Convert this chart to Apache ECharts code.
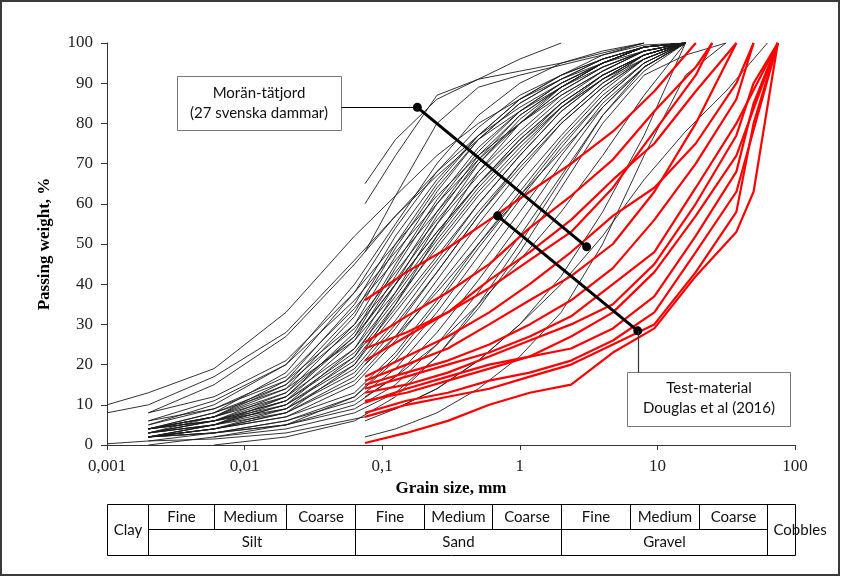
<!DOCTYPE html>
<html><head><meta charset="utf-8">
<script src="https://cdn.jsdelivr.net/npm/echarts@6/dist/echarts.min.js"></script>
<style>html,body{margin:0;padding:0;background:#fff}#c{width:841px;height:576px}</style>
</head><body><div id="c"></div>
<script>
const N = null;
// Grain sizes (mm) for the moraine (black) curves
const blackSieves = [0.001,0.002,0.006,0.02,0.063,0.075,0.125,0.25,0.5,1,2,4,8,16,31.5,63];
// Passing weight (%) per curve, aligned with blackSieves
const blackCurves = [
  [10,13,19,33,52,N,62,72,80,86,91,95,98,100,N,N],
  [8,10,17,28,46,N,57,67,76,83,89,94,98,100,N,N],
  [0.3,1,1.5,3,N,7,9,14,21,30,40,52,66,78,88,100],
  [N,8,15,27,45,N,57,68,77,84,90,95,99,100,N,N],
  [N,8,12,21,38,N,50,62,72,80,87,93,98,100,N,N],
  [N,6,11,20,36,N,48,60,71,80,88,94,98,100,N,N],
  [N,6,9,16,30,N,43,56,68,78,87,93,98,100,N,N],
  [N,5,9,17,34,N,46,58,70,80,88,94,98,100,N,N],
  [N,4,8,15,29,N,41,55,67,77,86,93,98,100,N,N],
  [N,4,7,13,27,N,40,53,65,76,85,92,97,100,N,N],
  [N,4,7,12,24,N,37,51,64,75,85,92,97,100,N,N],
  [N,4,6,11,23,N,36,49,62,73,84,92,97,100,N,N],
  [N,4,6,10,20,N,33,46,60,72,83,91,97,100,N,N],
  [N,4,6,9,18,N,30,43,57,70,81,90,97,100,N,N],
  [N,3,6,11,22,N,35,50,63,74,84,91,96,100,N,N],
  [N,3,5,9,19,N,31,45,58,70,81,90,96,100,N,N],
  [N,3,5,8,16,N,27,41,55,68,80,89,96,100,N,N],
  [N,2,5,10,21,N,34,47,60,72,83,91,97,100,N,N],
  [N,2,4,8,17,N,29,43,57,69,80,89,96,100,N,N],
  [N,2,4,7,15,N,26,39,52,65,77,88,96,100,N,N],
  [N,2,4,7,13,N,23,36,50,63,76,87,95,100,N,N],
  [N,2,3,6,12,N,21,33,47,61,74,86,95,100,N,N],
  [N,2,3,6,11,N,19,31,44,58,72,85,94,100,N,N],
  [N,2,3,5,10,N,17,28,41,55,70,84,94,100,N,N],
  [N,1,3,5,9,N,15,25,38,52,67,82,93,100,N,N],
  [N,0,2,4,8,N,13,22,34,48,64,80,92,97,100,N],
  [N,2,4,8,20,N,35,52,68,80,89,95,99,100,N,N],
  [N,4,7,14,32,N,49,64,76,85,91,96,99,100,N,N],
  [N,3,6,12,28,N,45,61,74,83,90,95,99,100,N,N],
  [N,2,5,11,26,N,42,58,72,82,89,95,99,100,N,N],
  [N,4,8,18,38,N,54,68,79,87,92,96,99,100,N,N],
  [N,5,10,20,40,N,55,70,82,90,95,98,100,N,N,N],
  [N,3,7,16,35,N,52,66,77,86,92,97,99.5,100,N,N],
  [N,3,6,13,30,N,47,63,76,85,91,96,99,100,N,N],
  [N,2,5,12,27,N,44,60,73,83,90,95,99,100,N,N],
  [N,4,7,15,33,N,50,65,77,86,92,96,99,100,N,N],
  [N,3,5,10,24,N,40,57,71,82,89,95,99,100,N,N],
  [N,2,4,9,22,N,38,55,70,81,89,95,99,100,N,N],
  [N,N,8,14,26,N,38,52,65,76,85,92,97,100,N,N],
  [N,N,0,2,6,N,12,22,35,50,66,82,94,100,N,N],
  [N,N,2,5,12,N,22,35,49,62,75,86,95,100,N,N],
  [N,N,N,N,N,65,76,86,91,96,100,N,N,N,N,N],
  [N,N,N,N,N,60,72,87,91,93,95,97.5,100,N,N,N],
  [N,N,N,N,N,48,62,80,89,92,94.5,97,100,N,N,N],
  [N,N,N,N,N,2,4,8,14,22,33,50,72,92,100,N],
  [N,N,N,N,N,6,9,14,21,30,42,58,77,100,N,N],
  [N,N,N,N,N,12,17,25,35,46,58,72,87,100,N,N],
  [N,N,N,N,N,20,27,38,50,62,73,84,94,100,N,N],
  [N,N,N,N,N,30,40,53,65,75,84,91,97,100,N,N]
];
// Grain sizes (mm) for the test material (red) curves
const redSieves = [0.075,0.15,0.3,0.6,1.18,2.36,4.75,9.5,12.5,19,25,37.5,50,75];
const redCurves = [
  [36,43,49,56,63,70,78,88,N,100,N,N,N,N],
  [25.5,32,38,45,54,62,71,83,N,94,100,N,N,N],
  [24,28,33,39,46,53,64,78,N,92,100,N,N,N],
  [21,27,33,41,48,56,66,75,N,88,N,100,N,N],
  [17,22,27,33,40,48,57,64,N,75,N,90,100,N],
  [16,20,24,30,36,42,50,63,N,80,N,100,N,N],
  [15,18,21,25,30,36,44,56,N,70,N,86,100,N],
  [14,17,20,23,27,32,40,48,N,64,N,80,N,100],
  [13,15,18,22,26,30,35,45,N,60,N,77,90,100],
  [11,13,16,19,22,27,33,43,N,57,N,72,N,100],
  [10.5,14,17,20,22,24,29,37,N,52,N,68,85,100],
  [8,11,13,16,18,21,26,33,N,48,N,63,N,100],
  [7,10,12,14,17,20,25,30,N,43,N,58,80,100],
  [0.5,3,6,10,13,15,23,29,N,42,N,53,63,100]
];
// Annotation pointer lines (grain size mm, passing %)
const pointerMoran = [[0.18,84],[3.06,49.3]];
const pointerTest = [[0.69,57],[7.2,28.4]];
const xTickLabels = ['0,001','0,01','0,1','1','10','100'];
// Soil class boundaries (mm) and labels for the table below the chart
const classBounds = [0.002,0.006,0.02,0.063,0.2,0.63,2,6.3,20,63];
const subLabels = ['Fine','Medium','Coarse','Fine','Medium','Coarse','Fine','Medium','Coarse'];
const groupLabels = ['Silt','Sand','Gravel'];

function pairs(xs, ys){ const out=[]; ys.forEach((v,i)=>{ if(v!==null) out.push([xs[i],v]); }); return out; }

const chart = echarts.init(document.getElementById('c'), null, {renderer:'canvas'});
const series = [];
blackCurves.forEach(c => series.push({type:'line', data:pairs(blackSieves,c), symbol:'none', silent:true, z:2,
  lineStyle:{color:'#1c1c1c', width:0.9}}));
redCurves.forEach(c => series.push({type:'line', data:pairs(redSieves,c), symbol:'none', silent:true, z:3,
  lineStyle:{color:'#ff0000', width:2.2}}));
[pointerMoran, pointerTest].forEach(p => series.push({type:'line', data:p, symbol:'circle', symbolSize:9, showSymbol:true, silent:true, z:6,
  itemStyle:{color:'#000'}, lineStyle:{color:'#000', width:3}}));

const serif = 'Liberation Serif, Times New Roman, serif';
chart.setOption({
  animation:false,
  backgroundColor:'#fff',
  grid:{left:107, right:46, top:43, bottom:131},
  xAxis:{type:'log', logBase:10, min:0.001, max:100,
    name:'Grain size, mm', nameLocation:'middle', nameGap:34,
    nameTextStyle:{fontFamily:serif, fontWeight:'bold', fontSize:17, color:'#000'},
    axisLine:{show:true, lineStyle:{color:'#333', width:1}},
    axisTick:{show:true, inside:false, length:5, lineStyle:{color:'#333'}},
    minorTick:{show:false}, splitLine:{show:false},
    axisLabel:{fontFamily:serif, fontSize:17, color:'#222', margin:13,
      formatter:v => xTickLabels[Math.round(Math.log10(v))+3]}},
  yAxis:{type:'value', min:0, max:100, interval:10,
    name:'Passing weight, %', nameLocation:'middle', nameGap:54,
    nameTextStyle:{fontFamily:serif, fontWeight:'bold', fontSize:17, color:'#000'},
    axisLine:{show:true, lineStyle:{color:'#333', width:1}},
    axisTick:{show:true, inside:false, length:6, lineStyle:{color:'#333'}},
    splitLine:{show:false},
    axisLabel:{fontFamily:serif, fontSize:17, color:'#222', margin:14}},
  series:series
});

const px = (x,y) => chart.convertToPixel({gridIndex:0}, [x,y]);
const g = [];
const sans = 'Lato, Open Sans, sans-serif';
function line(x1,y1,x2,y2,w,c){ g.push({type:'line', silent:true, z:10, shape:{x1,y1,x2,y2}, style:{stroke:c||'#000', lineWidth:w||1}}); }
function rect(x,y,w,h,stroke,fill,lw){ g.push({type:'rect', silent:true, z:9, shape:{x,y,width:w,height:h}, style:{stroke:stroke, fill:fill||'transparent', lineWidth:lw||1}}); }
function text(t,x,y,size,align){ g.push({type:'text', silent:true, z:11, x:x, y:y, style:{text:t, font:size+'px '+sans, fill:'#111',
  align:align||'center', verticalAlign:'middle', textAlign:align||'center', textVerticalAlign:'middle'}}); }

// outer frame
rect(1,1,838,574,'#3a3a3a','transparent',2);

// annotation boxes
const mDot = px(pointerMoran[0][0], pointerMoran[0][1]);
rect(177.5,76.5,164,54,'#777','#fff');
line(341.5, Math.round(mDot[1])+0.5, mDot[0], Math.round(mDot[1])+0.5, 1.2, '#000');
text('Morän-tätjord', 259, 93, 15);
text('(27 svenska dammar)', 259, 113, 15);
const tDot = px(pointerTest[1][0], pointerTest[1][1]);
rect(627.5,372.5,163,54,'#777','#fff');
line(Math.round(tDot[0])+0.5, tDot[1], Math.round(tDot[0])+0.5, 372.5, 1.2, '#333');
text('Test-material', 709, 388, 15);
text('Douglas et al (2016)', 709, 408, 15);

// classification table
const tTop = 504.5, tMid = 529.5, tBot = 555.5;
const left = Math.round(px(0.001,0)[0]) + 0.5;
const right = Math.round(px(100,0)[0]) + 0.5;
const bx = classBounds.map(b => Math.round(px(b,0)[0]) + 0.5);
rect(left, tTop, right-left, tBot-tTop, '#000');
bx.forEach((x,i) => {
  const isGroupEdge = (i===0 || i===3 || i===6 || i===9);
  line(x, tTop, x, isGroupEdge ? tBot : tMid);
});
line(bx[0], tMid, bx[bx.length-1], tMid);
for (let i=0;i<9;i++) text(subLabels[i], (bx[i]+bx[i+1])/2, 517, 15);
for (let k=0;k<3;k++) text(groupLabels[k], (bx[k*3]+bx[k*3+3])/2, 542, 15);
text('Clay', (left+bx[0])/2, 530, 15);
text('Cobbles', bx[9]+6, 530, 15, 'left');

chart.setOption({graphic:{elements:g}});
</script></body></html>
